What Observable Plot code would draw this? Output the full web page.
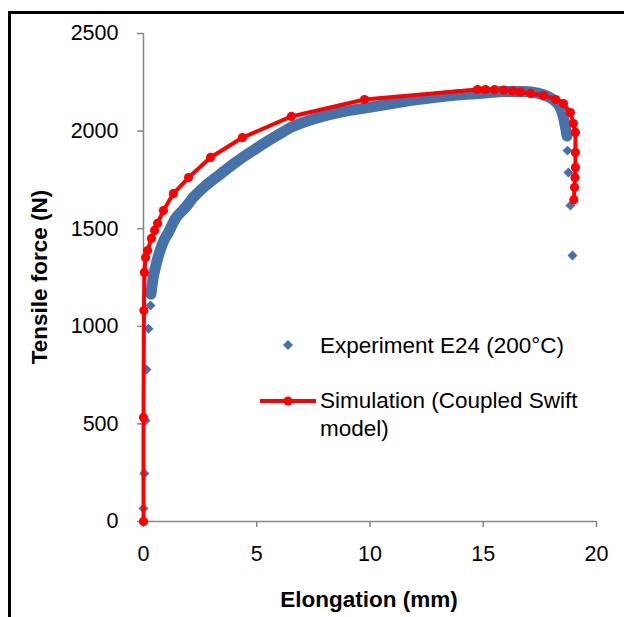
<!DOCTYPE html>
<html>
<head>
<meta charset="utf-8">
<script src="https://cdn.jsdelivr.net/npm/d3@7"></script>
<script src="https://cdn.jsdelivr.net/npm/@observablehq/plot@0.6"></script>
<style>
  body { margin: 0; background: #fff; font-family: "Liberation Sans", Arial, sans-serif; }
  #wrap { position: relative; width: 624px; height: 617px; overflow: hidden; background: #fff; }
  #frame { position: absolute; left: 8px; top: 11px; width: 800px; height: 800px;
           border-left: 3px solid #000; border-top: 3px solid #000; box-sizing: border-box; }
  #chart { position: absolute; left: 0; top: 0; }
  .title { position: absolute; font-weight: bold; font-size: 22.5px; color: #000; white-space: nowrap; }
  #xtitle { left: 369px; top: 600px; transform: translate(-50%, -50%); }
  #ytitle { left: 40px; top: 277px; transform: translate(-50%, -50%) rotate(-90deg); }
  .leg { position: absolute; font-size: 22.5px; color: #000; white-space: nowrap; line-height: 28px; }
  #legsvg { position: absolute; left: 0; top: 0; }
</style>
</head>
<body>
<div id="wrap">
  <div id="frame"></div>
  <div id="chart"></div>
  <div class="title" id="xtitle"></div>
  <div class="title" id="ytitle"></div>
  <div class="leg" id="leg1" style="left:320px; top:332px;"></div>
  <div class="leg" id="leg2" style="left:320px; top:387px;"></div>
</div>
<script>
// ---- Data ----
const xTicks = [0, 5, 10, 15, 20];
const yTicks = [0, 500, 1000, 1500, 2000, 2500];

const xTitle = "Elongation (mm)";
const yTitle = "Tensile force (N)";
const expName = "Experiment E24 (200°C)";
const simName = ["Simulation (Coupled Swift", "model)"];

// Experiment: initial elastic loading points
const expLoadX = [0.00, 0.00, 0.04, 0.09, 0.13, 0.22, 0.31];
const expLoadY = [0, 67, 246, 517, 779, 988, 1107];

// Experiment: dense hardening band
const expX = [0.33, 0.40, 0.50, 0.62, 0.75, 0.90, 1.10, 1.40, 1.85, 2.20, 2.60, 3.00, 3.31, 3.70, 4.06, 4.50, 4.81, 5.20, 6.00, 6.53, 7.50, 8.50, 9.76, 10.90, 12.00, 13.40, 14.80, 16.00, 16.80, 17.40, 17.80, 18.10, 18.35, 18.50, 18.60, 18.70];
const expY = [1165, 1230, 1290, 1345, 1395, 1440, 1481, 1550, 1609, 1660, 1706, 1745, 1772, 1808, 1839, 1875, 1898, 1928, 1985, 2020, 2062, 2092, 2118, 2140, 2160, 2180, 2193, 2203, 2203, 2195, 2180, 2160, 2130, 2090, 2040, 1975];

// Experiment: fracture points
const expDropX = [18.72, 18.76, 18.85, 18.94];
const expDropY = [1900, 1788, 1619, 1363];

// Simulation (Coupled Swift model)
const simX = [0, 0.00, 0.02, 0.04, 0.09, 0.18, 0.35, 0.49, 0.62, 0.88, 1.32, 1.99, 2.96, 4.37, 6.53, 9.76, 14.75, 15.10, 15.50, 15.90, 16.30, 16.64, 17.09, 17.66, 18.20, 18.54, 18.85, 18.98, 19.07, 19.07, 19.07, 19.05, 19.03, 19.00];
const simY = [0, 533, 1081, 1276, 1352, 1388, 1450, 1491, 1527, 1593, 1680, 1762, 1865, 1967, 2075, 2162, 2213, 2213, 2212, 2210, 2206, 2200, 2193, 2182, 2162, 2141, 2095, 2039, 1993, 1890, 1814, 1762, 1711, 1648];

// ---- Build tables ----
const toRows = (xs, ys) => xs.map((x, i) => ({x, y: ys[i]}));
const expLoad = toRows(expLoadX, expLoadY);
const expBand = toRows(expX, expY);
const expDrop = toRows(expDropX, expDropY);
const expAll = expLoad.concat(expBand, expDrop);
const sim = toRows(simX, simY);

const blue = "#4672aa";
const red = "#ff0000";
const axisGray = "#868686";

const chart = Plot.plot({
  width: 624,
  height: 617,
  marginLeft: 143,
  marginRight: 28,
  marginTop: 33,
  marginBottom: 96,
  x: {domain: [0, 20]},
  y: {domain: [0, 2500]},
  style: {fontFamily: "'Liberation Sans', Arial, sans-serif", fontSize: "21.5px", color: "#000", background: "transparent", overflow: "visible"},
  marks: [
    Plot.ruleY([0], {stroke: axisGray, strokeWidth: 1.5}),
    Plot.ruleX([0], {stroke: axisGray, strokeWidth: 1.5}),
    Plot.axisX({ticks: xTicks, tickSize: 6, tickPadding: 18, stroke: axisGray, strokeWidth: 1.5, label: null, tickFormat: d => String(d)}),
    Plot.axisY({ticks: yTicks, tickSize: 6, tickPadding: 19, stroke: axisGray, strokeWidth: 1.5, label: null, tickFormat: d => String(d)}),
    Plot.line(expBand, {x: "x", y: "y", stroke: blue, strokeWidth: 11, strokeLinejoin: "round", strokeLinecap: "round", curve: "monotone-x"}),
    Plot.dot(expAll, {x: "x", y: "y", symbol: "diamond2", fill: blue, r: 4.5}),
    Plot.line(sim, {x: "x", y: "y", stroke: red, strokeWidth: 4, strokeLinejoin: "round"}),
    Plot.dot(sim, {x: "x", y: "y", fill: red, r: 4.6})
  ]
});
document.getElementById("chart").appendChild(chart);

document.getElementById("xtitle").textContent = xTitle;
document.getElementById("ytitle").textContent = yTitle;
document.getElementById("leg1").textContent = expName;
document.getElementById("leg2").innerHTML = simName.join("<br>");

// Legend symbols
const ns = "http://www.w3.org/2000/svg";
const lsvg = document.createElementNS(ns, "svg");
lsvg.setAttribute("id", "legsvg");
lsvg.setAttribute("width", 624);
lsvg.setAttribute("height", 617);
const dia = document.createElementNS(ns, "path");
dia.setAttribute("d", d3.symbol(d3.symbolDiamond2, Math.PI * 4.5 * 4.5)());
dia.setAttribute("transform", "translate(288,345)");
dia.setAttribute("fill", blue);
lsvg.appendChild(dia);
const ll = document.createElementNS(ns, "line");
ll.setAttribute("x1", 260); ll.setAttribute("x2", 316);
ll.setAttribute("y1", 401); ll.setAttribute("y2", 401);
ll.setAttribute("stroke", red); ll.setAttribute("stroke-width", 4);
lsvg.appendChild(ll);
const lc = document.createElementNS(ns, "circle");
lc.setAttribute("cx", 288); lc.setAttribute("cy", 401); lc.setAttribute("r", 4.6);
lc.setAttribute("fill", red);
lsvg.appendChild(lc);
document.getElementById("wrap").appendChild(lsvg);
</script>
</body>
</html>
